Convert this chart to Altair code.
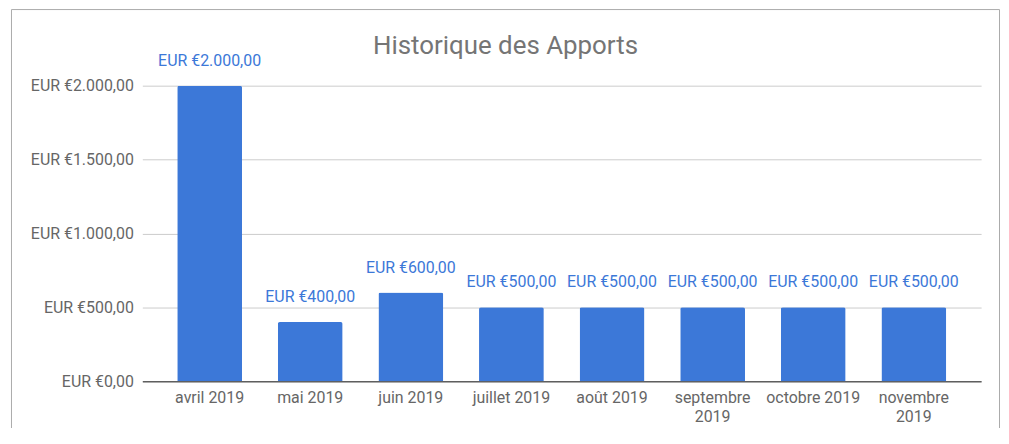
import altair as alt
import pandas as pd

months = ["avril 2019", "mai 2019", "juin 2019", "juillet 2019", "août 2019",
          "septembre 2019", "octobre 2019", "novembre 2019"]
values = [2000, 400, 600, 500, 500, 500, 500, 500]
y_ticks = [0, 500, 1000, 1500, 2000]
title_text = "Historique des Apports"

df = pd.DataFrame({"mois": months, "apport": values})

FONT = "Roboto"
BLUE = "#3c78d8"
GREY = "#666666"

eur = "'EUR €' + replace(replace(replace(format({v}, ',.2f'), ',', ' '), '.', ','), ' ', '.')"

base = alt.Chart(df).encode(
    x=alt.X("mois:N", sort=None, title=None,
            scale=alt.Scale(paddingInner=0.356, paddingOuter=0.347),
            axis=alt.Axis(labelAngle=0, ticks=False, domain=True, domainColor="#5f5f5f",
                          domainWidth=1.5, labelPadding=8, labelFontSize=16,
                          labelColor=GREY, labelFont=FONT, labelLineHeight=20,
                          labelExpr="length(datum.label) > 12 ? split(datum.label, ' ') : datum.label")),
    y=alt.Y("apport:Q", title=None,
            scale=alt.Scale(domain=[0, 2000]),
            axis=alt.Axis(values=y_ticks, ticks=False, domain=False, gridColor="#cccccc",
                          labelPadding=9, labelFontSize=16, labelColor=GREY, labelFont=FONT,
                          labelExpr=eur.format(v="datum.value"))),
)

bars = base.mark_bar(color=BLUE, cornerRadiusTopLeft=2, cornerRadiusTopRight=2)

labels = base.transform_calculate(
    lab=eur.format(v="datum.apport")
).mark_text(baseline="middle", dy=-25, fontSize=16, font=FONT, color=BLUE).encode(text="lab:N")

title = alt.Chart(pd.DataFrame({"t": [title_text]})).mark_text(
    align="center", baseline="middle", fontSize=26, font=FONT, color="#757575"
).encode(text="t:N", x=alt.value(365), y=alt.value(-40))

border = alt.Chart(pd.DataFrame({"b": [1]})).mark_rect(
    fillOpacity=0, stroke="#aaaaaa", strokeWidth=1
).encode(x=alt.value(-131.5), x2=alt.value(861.5), y=alt.value(-76.5), y2=alt.value(380))

chart = alt.layer(border, bars, labels, title).properties(
    width=843, height=297,
    padding={"left": 135, "top": 77, "right": 20, "bottom": 46},
    autosize=alt.AutoSizeParams(type="none"),
).configure_view(stroke=None)

chart.save("out.html", embed_options={"renderer": "svg", "actions": False})
